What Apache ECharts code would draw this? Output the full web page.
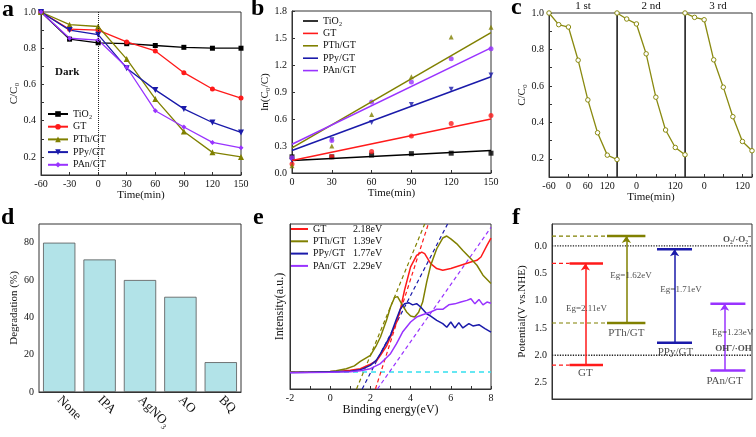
<!DOCTYPE html>
<html><head><meta charset="utf-8">
<script src="https://cdn.jsdelivr.net/npm/echarts@6/dist/echarts.min.js"></script>
<style>html,body{margin:0;padding:0;background:#fff}#c{width:756px;height:437px}</style>
</head><body><div id="c"></div>
<script>
// ---------- data ----------
const seriesNames = ['TiO₂','GT','PTh/GT','PPy/GT','PAn/GT'];
// panel a
const aTime = [-60,-30,0,30,60,90,120,150];
const aTiO2 = [1.0,0.85,0.83,0.825,0.815,0.805,0.80,0.80];
const aGT   = [1.0,0.905,0.90,0.835,0.785,0.665,0.575,0.525];
const aPTh  = [1.0,0.93,0.92,0.74,0.52,0.34,0.225,0.20];
const aPPy  = [1.0,0.90,0.875,0.69,0.57,0.465,0.39,0.335];
const aPAn  = [1.0,0.855,0.845,0.695,0.455,0.365,0.28,0.25];
// panel b
const bTime = [0,30,60,90,120,150];
const bTiO2 = [0.18,0.18,0.20,0.215,0.22,0.22];
const bGT   = [0.10,0.18,0.24,0.41,0.55,0.64];
const bPTh  = [0.08,0.30,0.65,1.07,1.51,1.62];
const bPPy  = [0.14,0.37,0.56,0.76,0.93,1.09];
const bPAn  = [0.17,0.36,0.79,1.01,1.27,1.38];
const bFitTime = [0,150];
const bFitTiO2 = [0.14,0.25];
const bFitGT   = [0.14,0.60];
const bFitPTh  = [0.28,1.56];
const bFitPPy  = [0.25,1.07];
const bFitPAn  = [0.32,1.39];
// panel c
const cTime = [-60,-30,0,30,60,90,120,150];
const cRun1 = [1.0,0.936,0.923,0.741,0.523,0.343,0.22,0.196];
const cRun2 = [1.0,0.967,0.94,0.776,0.538,0.358,0.262,0.222];
const cRun3 = [1.0,0.976,0.963,0.743,0.593,0.431,0.295,0.244];
const cTitles = ['1 st','2 nd','3 rd'];
// panel d
const dScavengers = ['None','IPA','AgNO₃','AO','BQ'];
const dDegradation = [80,71,60,51,16];
// panel e
const eGT = [[-2,10.2],[-1,10.3],[0,10.6],[0.5,10.8],[1,11.3],[1.5,12.3],[2,15],[2.3,17],[2.5,20.4],[2.8,26],[3,31.5],[3.3,40.6],[3.5,48.7],[3.7,60],[4,74],[4.3,81],[4.55,83],[4.7,82],[5,76],[5.3,73],[5.6,72],[6,73],[6.5,75],[7,77],[7.3,78],[7.5,80],[7.8,87],[8,91.5]];
const ePTh = [[-2,10.2],[-1,10.3],[0,10.6],[0.3,11],[0.8,12.3],[1.2,14],[1.5,16.8],[2,20.4],[2.3,26.5],[2.5,31.5],[2.8,41.6],[3,49.7],[3.2,55.5],[3.35,56],[3.6,50.7],[3.8,46.7],[4,44.2],[4.2,43.6],[4.4,46.5],[4.6,52.7],[4.8,64.8],[5,75],[5.3,85],[5.6,91.5],[5.8,92.7],[6,91],[6.3,88],[6.6,84],[7,79],[7.3,75],[7.6,69],[8,64]];
const ePPy = [[-2,10],[-1,10.2],[0,10.4],[1,10.8],[1.5,11.6],[2,14.3],[2.3,17.5],[2.5,21.4],[3,32.5],[3.3,42.6],[3.5,48.7],[3.7,51.7],[3.9,52.3],[4.1,51],[4.3,51.7],[4.5,49.7],[4.8,45.6],[5,44.2],[5.3,41.6],[5.6,39.6],[5.8,37.4],[6,40.6],[6.2,37],[6.4,40.2],[6.6,37],[6.9,39.6],[7.1,38.2],[7.4,39],[7.7,36.6],[8,34.5]];
const ePAn = [[-2,9.8],[-1,10],[0,10.2],[1,10.5],[1.5,11],[2,12.3],[2.5,15.4],[3,21.4],[3.3,27.5],[3.6,34.5],[4,40.6],[4.3,43.6],[4.6,45],[5,46.7],[5.3,48.3],[5.6,48.3],[5.9,51],[6.2,51.6],[6.5,52.7],[6.8,53.7],[7,54.7],[7.2,51.6],[7.4,54.3],[7.6,51],[7.8,52.7],[8,52]];
const eBandGap = ['2.18eV','1.39eV','1.77eV','2.29eV'];
const eTanGT  = [[2.25,0],[4.88,100]];
const eTanPTh = [[1.31,0],[4.70,100]];
const eTanPPy = [[1.59,0],[5.84,100]];
const eTanPAn = [[2.35,0],[8,98]];
const eBaseline = [[-2,10.3],[8,10.3]];
// panel f
const fMaterials = ['GT','PTh/GT','PPy/GT','PAn/GT'];
const fCB = [0.32,-0.18,0.06,1.06];
const fVB = [2.18,1.41,1.77,2.28];
const fEg = ['Eg=2.11eV','Eg=1.62eV','Eg=1.71eV','Eg=1.23eV'];
const fRedoxNames = ['O₂/·O₂⁻','OH⁻/·OH'];
const fRedoxLevels = [0.0,2.0];

// ---------- layout / style ----------
const FONT = '"Liberation Serif","Times New Roman",serif';
const COLORS = ['#000000','#ff1a1a','#808000','#1a1aaa','#9933ff'];
const fLayout = {
  barX: [[8.8,25.5],[27.5,46.7],[52.5,70],[79.2,96.7]],
  arrowX: [16.7,37.2,61.3,86.3],
  egPos: [[17.2,1.15],[39.5,0.54],[64.5,0.80],[90.3,1.58]],
  namePos: [[16.7,2.33],[37.2,1.59],[61.7,1.94],[86.3,2.47]],
  dashed: [true,true,false,false],
  redoxPos: [[92.5,-0.12],[90.8,1.88]]
};

function ax(gi, o) {
  return Object.assign({
    gridIndex: gi,
    axisLine: {onZero:false, lineStyle:{color:'#333', width:1}},
    axisTick: {inside:true, length:3, lineStyle:{color:'#333'}},
    axisLabel: {fontFamily:FONT, fontSize:10, color:'#111', margin:4},
    splitLine: {show:false},
    nameTextStyle: {fontFamily:FONT, fontSize:11, color:'#111'},
    nameLocation: 'middle'
  }, o);
}
const even = v => (Math.round(v*10)%2===0 ? v.toFixed(1) : '');

const gridBase = {show:true, borderColor:'#333', borderWidth:1, containLabel:false};
const grids = [
  {left:41, top:12, width:200, height:163},
  {left:292, top:11, width:199, height:162},
  {left:549, top:13, width:68, height:164},
  {left:617, top:13, width:68, height:164},
  {left:685, top:13, width:67, height:164},
  {left:39, top:224, width:202, height:168},
  {left:290, top:224, width:201, height:165},
  {left:552, top:224, width:200, height:175}
].map(g => Object.assign({}, gridBase, g));

const xAxes = [
  ax(0,{type:'value', min:-60, max:150, interval:30, name:'Time(min)', nameGap:12}),
  ax(1,{type:'value', min:0, max:150, interval:30, name:'Time(min)', nameGap:14}),
  ax(2,{type:'value', min:-60, max:150, interval:60, axisLabel:{fontFamily:FONT,fontSize:10,color:'#111',margin:4,formatter:v=>(v===150?'':String(v))}}),
  ax(3,{type:'value', min:-60, max:150, interval:60, name:'Time(min)', nameGap:10, axisLabel:{fontFamily:FONT,fontSize:10,color:'#111',margin:4,formatter:v=>((v===0||v===120)?String(v):'')}}),
  ax(4,{type:'value', min:-60, max:150, interval:60, axisLabel:{fontFamily:FONT,fontSize:10,color:'#111',margin:4,formatter:v=>((v===0||v===120)?String(v):'')}}),
  ax(5,{type:'category', data:dScavengers, axisTick:{show:false}, axisLabel:{fontFamily:FONT,fontSize:13,color:'#111',rotate:-45,margin:6}}),
  ax(6,{type:'value', min:-2, max:8, interval:1, name:'Binding energy(eV)', nameGap:12, nameTextStyle:{fontFamily:FONT,fontSize:12,color:'#111'}, axisLabel:{fontFamily:FONT,fontSize:10,color:'#111',margin:4,formatter:v=>(Math.abs(v)%2===0?String(v):'')}}),
  ax(7,{type:'value', min:0, max:100, axisLabel:{show:false}, axisTick:{show:false}})
];
const yAxes = [
  ax(0,{type:'value', min:0.1, max:1.0, interval:0.1, name:'C/C₀', nameGap:16, axisLabel:{fontFamily:FONT,fontSize:10,color:'#111',margin:5,formatter:even}}),
  ax(1,{type:'value', min:0, max:1.8, interval:0.3, name:'ln(C₀/C)', nameGap:20, axisLabel:{fontFamily:FONT,fontSize:10,color:'#111',margin:5,formatter:v=>v.toFixed(1)}}),
  ax(2,{type:'value', min:0.1, max:1.0, interval:0.1, name:'C/C₀', nameGap:18, axisLabel:{fontFamily:FONT,fontSize:10,color:'#111',margin:5,formatter:even}}),
  ax(3,{type:'value', min:0.1, max:1.0, interval:0.1, axisLabel:{show:false}, axisTick:{show:false}}),
  ax(4,{type:'value', min:0.1, max:1.0, interval:0.1, axisLabel:{show:false}, axisTick:{show:false}}),
  ax(5,{type:'value', min:0, max:90, interval:20, name:'Degradation (%)', nameGap:16, axisLabel:{fontFamily:FONT,fontSize:10,color:'#111',margin:5,formatter:v=>(v===90?'':String(v))}}),
  ax(6,{type:'value', min:0, max:100, name:'Intensity(a.u.)', nameGap:4, nameTextStyle:{fontFamily:FONT,fontSize:12,color:'#111'}, axisLabel:{show:false}, axisTick:{show:false}}),
  ax(7,{type:'value', min:-0.4, max:2.8, interval:0.1, inverse:true, name:'Potential(V vs.NHE)', nameGap:24, axisTick:{show:false}, axisLabel:{fontFamily:FONT,fontSize:10,color:'#111',margin:5,formatter:v=>(Math.abs(Math.round(v*10))%5===0?v.toFixed(1):'')}})
];

const series = [];
// panel a
const aData = [aTiO2,aGT,aPTh,aPPy,aPAn];
const aSym = ['rect','circle','triangle','triangle','diamond'];
const aRot = [0,0,0,180,0];
aData.forEach((arr,i) => {
  const s = {
    type:'line', name:'a|'+seriesNames[i], xAxisIndex:0, yAxisIndex:0,
    data: aTime.map((t,k)=>[t,arr[k]]),
    symbol:aSym[i], symbolRotate:aRot[i], symbolSize:i===2||i===3?6:5,
    color:COLORS[i], lineStyle:{width:1.3, color:COLORS[i]}, itemStyle:{color:COLORS[i]}, z:3
  };
  if (i===0) s.markLine = {silent:true, symbol:'none', label:{show:false}, lineStyle:{type:'dotted', color:'#222', width:1}, data:[{xAxis:0}]};
  series.push(s);
});
// panel b
const bData = [bTiO2,bGT,bPTh,bPPy,bPAn];
const bFit = [bFitTiO2,bFitGT,bFitPTh,bFitPPy,bFitPAn];
const bSym = ['rect','circle','triangle','triangle','circle'];
bData.forEach((arr,i) => {
  series.push({type:'scatter', name:'bs|'+seriesNames[i], xAxisIndex:1, yAxisIndex:1,
    data: bTime.map((t,k)=>[t,arr[k]]), symbol:bSym[i], symbolRotate:aRot[i], symbolSize:5,
    itemStyle:{color:COLORS[i]}, clip:false});
  series.push({type:'line', name:'b|'+seriesNames[i], xAxisIndex:1, yAxisIndex:1,
    data: bFitTime.map((t,k)=>[t,bFit[i][k]]), symbol:'none', color:COLORS[i],
    lineStyle:{width:1.5, color:COLORS[i]}});
});
// panel c
[cRun1,cRun2,cRun3].forEach((arr,i) => {
  series.push({type:'line', name:'c'+i, xAxisIndex:2+i, yAxisIndex:2+i,
    data: cTime.map((t,k)=>[t,arr[k]]), symbol:'circle', symbolSize:4.5, showSymbol:true,
    lineStyle:{width:1.3, color:'#8a8a10'}, itemStyle:{color:'#fff', borderColor:'#8a8a10', borderWidth:1}, clip:false});
});
// panel d
series.push({type:'bar', name:'d', xAxisIndex:5, yAxisIndex:5, data:dDegradation, barWidth:'80%',
  itemStyle:{color:'#b2e3e8', borderColor:'#555', borderWidth:0.8}});
// panel e
const eCurves = [eGT,ePTh,ePPy,ePAn];
const eTans = [eTanGT,eTanPTh,eTanPPy,eTanPAn];
const eColors = ['#ff1a1a','#808000','#1a1aaa','#9933ff'];
series.push({type:'line', name:'eBase', xAxisIndex:6, yAxisIndex:6, data:eBaseline, symbol:'none',
  lineStyle:{type:[5,4], width:1.3, color:'#33e0ee'}, z:1});
eCurves.forEach((arr,i) => {
  series.push({type:'line', name:'e|'+fMaterials[i], xAxisIndex:6, yAxisIndex:6, data:arr, symbol:'none',
    color:eColors[i], lineStyle:{width:1.5, color:eColors[i]}, z:3});
  series.push({type:'line', name:'et'+i, xAxisIndex:6, yAxisIndex:6, data:eTans[i], symbol:'none',
    lineStyle:{type:[4,3], width:1.2, color:eColors[i]}, z:2});
});
// panel f
fRedoxLevels.forEach((lv,i) => {
  series.push({type:'line', name:'fr'+i, xAxisIndex:7, yAxisIndex:7, data:[[0,lv],[100,lv]], symbol:'none',
    lineStyle:{type:'dotted', width:1.3, color:'#222'}, z:1});
});
fMaterials.forEach((m,i) => {
  const col = eColors[i];
  const [x1,x2] = fLayout.barX[i];
  [fCB[i], fVB[i]].forEach(lv => {
    series.push({type:'line', name:'fb', xAxisIndex:7, yAxisIndex:7, data:[[x1,lv],[x2,lv]], symbol:'none',
      lineStyle:{width:2.5, color:col}, z:3});
    if (fLayout.dashed[i]) series.push({type:'line', name:'fd', xAxisIndex:7, yAxisIndex:7, data:[[0,lv],[x1,lv]], symbol:'none',
      lineStyle:{type:[4,3], width:1.2, color:col}, z:2});
  });
  series.push({type:'lines', coordinateSystem:'cartesian2d', xAxisIndex:7, yAxisIndex:7,
    data:[{coords:[[fLayout.arrowX[i], fVB[i]],[fLayout.arrowX[i], fCB[i]]]}],
    symbol:['none','arrow'], symbolSize:7, lineStyle:{width:1.5, color:col, opacity:1}, z:3});
});
const fText = [];
fMaterials.forEach((m,i) => {
  fText.push({value:fLayout.egPos[i], name:fEg[i], label:{fontSize:9}});
  fText.push({value:fLayout.namePos[i], name:m, label:{fontSize:11}});
});
fRedoxNames.forEach((n,i) => fText.push({value:fLayout.redoxPos[i], name:n, label:{fontSize:9, fontWeight:'bold'}}));
series.push({type:'scatter', name:'ftext', xAxisIndex:7, yAxisIndex:7, data:fText, symbolSize:0.1,
  itemStyle:{color:'rgba(0,0,0,0)'}, z:5,
  label:{show:true, position:'inside', formatter:'{b}', fontFamily:FONT, color:'#222', backgroundColor:'transparent'}});

const legendText = {fontFamily:FONT, fontSize:10, color:'#111', lineHeight:12};
const option = {
  animation:false,
  backgroundColor:'#fff',
  grid: grids, xAxis: xAxes, yAxis: yAxes, series: series,
  legend: [
    {left:47, top:108, orient:'vertical', padding:0, itemWidth:20, itemHeight:7, itemGap:0.7,
     data: seriesNames.map(n=>'a|'+n), formatter: n=>n.split('|')[1], textStyle:legendText, selectedMode:false},
    {left:303, top:15, orient:'vertical', padding:0, itemWidth:15, itemHeight:1.6, itemGap:0.4, icon:'rect',
     data: seriesNames.map(n=>'b|'+n), formatter: n=>n.split('|')[1], textStyle:legendText, selectedMode:false},
    {left:291, top:223, orient:'vertical', padding:0, itemWidth:17, itemHeight:2, itemGap:0.3, icon:'rect',
     data: fMaterials.map(n=>'e|'+n),
     formatter: n => { const k = fMaterials.indexOf(n.split('|')[1]); return '{n|'+fMaterials[k]+'}{v|'+eBandGap[k]+'}'; },
     textStyle: Object.assign({}, legendText, {rich:{n:{width:40, fontFamily:FONT, fontSize:10, color:'#111'}, v:{fontFamily:FONT, fontSize:10, color:'#111'}}}),
     selectedMode:false}
  ],
  graphic: [
    ...['a','b','c','d','e','f'].map((l,i)=>({type:'text', x:[2,251,511,1,253,512][i], y:[22,21,20,230,230,230][i],
      style:{text:l, font:'bold 24px '+FONT, fill:'#000', textVerticalAlign:'bottom'}})),
    {type:'text', x:55, y:72, style:{text:'Dark', font:'bold 11px '+FONT, fill:'#111', textVerticalAlign:'middle'}},
    ...cTitles.map((t,i)=>({type:'text', x:[583,651,718][i], y:6, style:{text:t, font:'11px '+FONT, fill:'#111', textAlign:'center', textVerticalAlign:'middle'}}))
  ]
};
const chart = echarts.init(document.getElementById('c'), null, {renderer:'canvas'});
chart.setOption(option);
</script></body></html>
